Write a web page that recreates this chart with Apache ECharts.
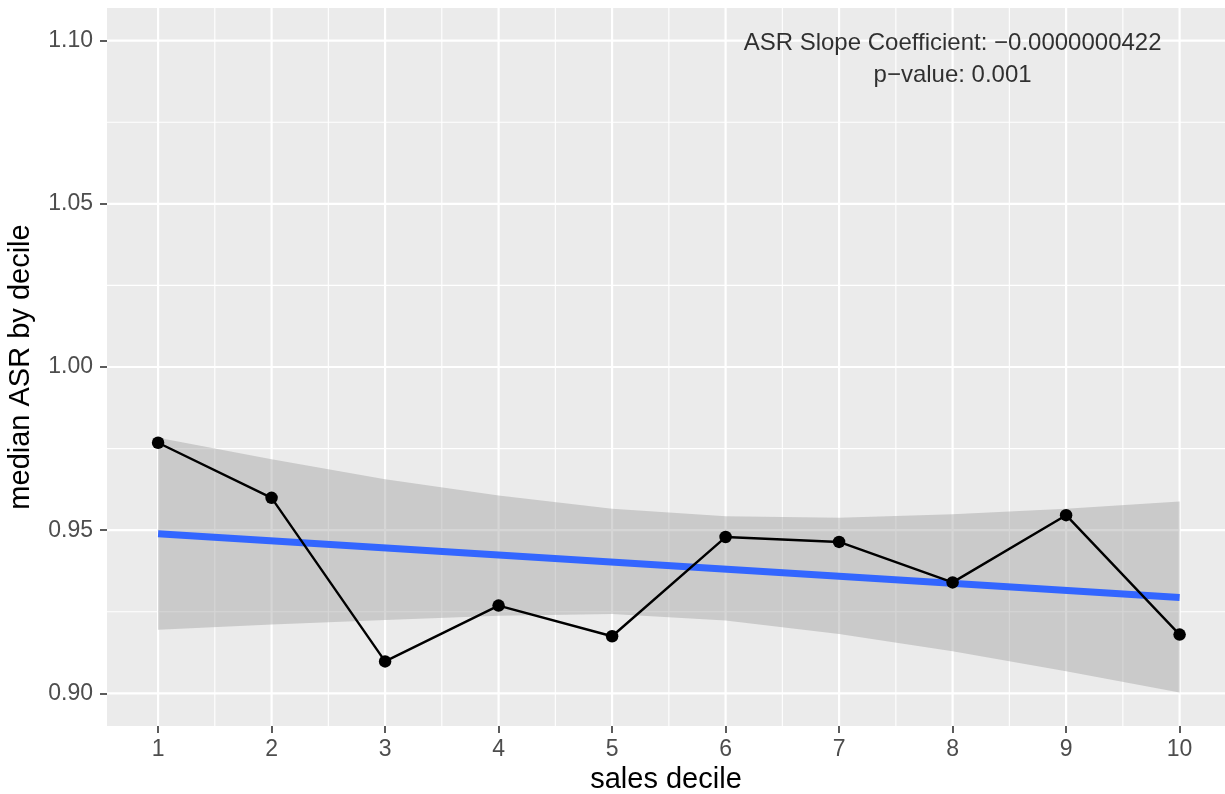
<!DOCTYPE html>
<html><head><meta charset="utf-8">
<script src="https://cdn.jsdelivr.net/npm/echarts@6/dist/echarts.min.js"></script>
<style>html,body{margin:0;padding:0;background:#fff}#c{width:1225px;height:794px}</style>
</head><body><div id="c"></div>
<script>
// ---- data ----
const deciles = [1, 2, 3, 4, 5, 6, 7, 8, 9, 10];
const medianASR = [0.9768, 0.9599, 0.9098, 0.9269, 0.9175, 0.9479, 0.9464, 0.9340, 0.9546, 0.9180];
const bandUpper = [0.9783, 0.9717, 0.9656, 0.9606, 0.9566, 0.9543, 0.9538, 0.9549, 0.9566, 0.9588];
const bandLower = [0.9195, 0.9211, 0.9225, 0.9238, 0.9243, 0.9223, 0.9182, 0.9129, 0.9068, 0.9003];
const fitX = [1, 10];
const fitY = [0.9489, 0.9294];
const xTicks = [1, 2, 3, 4, 5, 6, 7, 8, 9, 10];
const yTicks = [0.90, 0.95, 1.00, 1.05, 1.10];
const xMinorGrid = [1.5, 2.5, 3.5, 4.5, 5.5, 6.5, 7.5, 8.5, 9.5];
const yMinorGrid = [0.925, 0.975, 1.025, 1.075];
const annotationLines = ['ASR Slope Coefficient: \u22120.0000000422', 'p\u2212value: 0.001'];
const annotationAt = [8, 1.10];
const xTitle = 'sales decile';
const yTitle = 'median ASR by decile';

const FONT = '"Liberation Sans", Arial, Helvetica, sans-serif';

function gridSeries(values, vertical, width) {
  return {
    type: 'custom', silent: true, z: 1,
    data: values.map(v => vertical ? [v, yTicks[0]] : [xTicks[0], v]),
    encode: { x: 0, y: 1 },
    renderItem: function (params, api) {
      const cs = params.coordSys;
      const p = api.coord([api.value(0), api.value(1)]);
      const shape = vertical
        ? { x1: p[0], y1: cs.y, x2: p[0], y2: cs.y + cs.height }
        : { x1: cs.x, y1: p[1], x2: cs.x + cs.width, y2: p[1] };
      return { type: 'line', shape: shape, style: { stroke: '#FFFFFF', lineWidth: width } };
    }
  };
}

const chart = echarts.init(document.getElementById('c'), null, { renderer: 'canvas' });
chart.setOption({
  animation: false,
  backgroundColor: '#FFFFFF',
  textStyle: { fontFamily: FONT },
  grid: { left: 107, top: 8, right: 0, bottom: 68, show: true, backgroundColor: '#EBEBEB', borderWidth: 0,
    containLabel: false, outerBoundsMode: 'none' },
  xAxis: {
    type: 'value', min: 0.55, max: 10.4,
    splitLine: { show: false },
    axisLine: { show: false },
    axisTick: { show: true, customValues: xTicks, length: 7, lineStyle: { color: '#333333', width: 1.6 } },
    axisLabel: { customValues: xTicks, color: '#4D4D4D', fontSize: 23, margin: 12, fontFamily: FONT },
    name: xTitle, nameLocation: 'middle', nameGap: 36,
    nameTextStyle: { color: '#000000', fontSize: 29, fontFamily: FONT }
  },
  yAxis: {
    type: 'value', min: 0.89, max: 1.11,
    splitLine: { show: false },
    axisLine: { show: false },
    axisTick: { show: true, customValues: yTicks, length: 7, lineStyle: { color: '#333333', width: 1.6 } },
    axisLabel: { customValues: yTicks, color: '#4D4D4D', fontSize: 23, margin: 14, fontFamily: FONT,
      formatter: v => Number(v).toFixed(2) },
    name: yTitle, nameLocation: 'middle', nameGap: 72, nameRotate: 90,
    nameTextStyle: { color: '#000000', fontSize: 29, fontFamily: FONT }
  },
  series: [
    gridSeries(xMinorGrid, true, 1.1),
    gridSeries(yMinorGrid, false, 1.1),
    gridSeries(xTicks, true, 2.2),
    gridSeries(yTicks, false, 2.2),
    {
      type: 'custom', silent: true, z: 2,
      data: deciles.map((d, i) => [d, bandLower[i], bandUpper[i]]),
      encode: { x: 0, y: [1, 2] },
      renderItem: function (params, api) {
        if (params.dataIndex !== 0) return null;
        const pts = [];
        for (let i = 0; i < deciles.length; i++) pts.push(api.coord([deciles[i], bandUpper[i]]));
        for (let i = deciles.length - 1; i >= 0; i--) pts.push(api.coord([deciles[i], bandLower[i]]));
        return { type: 'polygon', shape: { points: pts }, style: { fill: 'rgba(153,153,153,0.4)' } };
      }
    },
    {
      type: 'line', z: 3, silent: true,
      data: fitX.map((x, i) => [x, fitY[i]]),
      symbol: 'none',
      lineStyle: { color: '#3366FF', width: 7 }
    },
    {
      type: 'line', z: 4, silent: true,
      data: deciles.map((d, i) => [d, medianASR[i]]),
      symbol: 'circle', symbolSize: 12.5, showSymbol: true,
      itemStyle: { color: '#000000' },
      lineStyle: { color: '#000000', width: 2.4 }
    },
    {
      type: 'scatter', z: 5, silent: true,
      data: [annotationAt],
      symbolSize: 0,
      label: {
        show: true, position: 'inside', offset: [0, 19],
        formatter: annotationLines.join('\n'),
        color: '#000000', fontSize: 24, lineHeight: 32, align: 'center', fontFamily: FONT
      }
    }
  ]
});
</script>
</body></html>
